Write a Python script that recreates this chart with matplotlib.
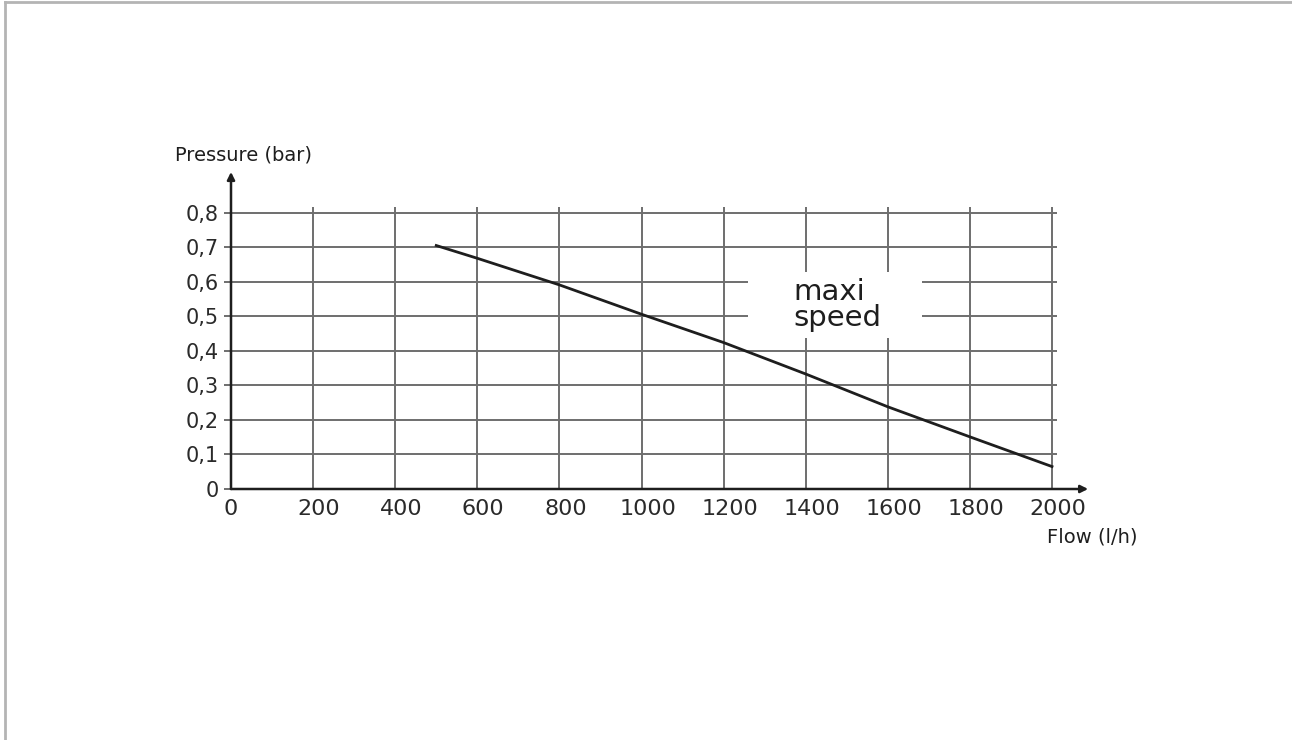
import matplotlib
matplotlib.use('Agg')
import matplotlib.pyplot as plt
import matplotlib.patches as patches
import matplotlib.transforms as mtransforms
from matplotlib.lines import Line2D

# pump curve
flow = [500, 600, 800, 1000, 1200, 1400, 1600, 1800, 2000]
pressure = [0.705, 0.668, 0.591, 0.506, 0.424, 0.333, 0.238, 0.151, 0.065]

x_ticks = [0, 200, 400, 600, 800, 1000, 1200, 1400, 1600, 1800, 2000]
y_ticks = [0, 0.1, 0.2, 0.3, 0.4, 0.5, 0.6, 0.7, 0.8]
y_labels = ['0', '0,1', '0,2', '0,3', '0,4', '0,5', '0,6', '0,7', '0,8']

W, H = 1292, 740
grid_col = '#6e6e6e'
ink = '#1e1e1e'

fig = plt.figure(figsize=(W / 100, H / 100), dpi=100)
ax = fig.add_axes([231 / W, (H - 489) / H, 821 / W, 276.3 / H])
ax.set_xlim(0, 2000)
ax.set_ylim(0, 0.8)
for s in ax.spines.values():
    s.set_visible(False)

# grid (drawn by hand so lines run a little past the last tick)
ax.vlines(x_ticks[1:], 0, 0.8165, color=grid_col, lw=1.4, zorder=1, clip_on=False)
ax.hlines(y_ticks[1:], 0, 2012, color=grid_col, lw=1.4, zorder=1, clip_on=False)

# axes with arrows
arrow = dict(arrowstyle='-|>', lw=1.8, color=ink, mutation_scale=11, shrinkA=0, shrinkB=0)
ax.annotate('', xy=(2088, 0), xytext=(0, 0), arrowprops=arrow, annotation_clip=False, zorder=5)
ax.annotate('', xy=(0, 0.918), xytext=(0, 0), arrowprops=arrow, annotation_clip=False, zorder=5)

# ticks
ax.set_xticks(x_ticks)
ax.set_xticklabels([str(v) for v in x_ticks], fontsize=16, color='#2a2a2a')
ax.tick_params(axis='x', length=0, pad=7)
shift = mtransforms.ScaledTranslation(6 / 100, 0, fig.dpi_scale_trans)
for lab in ax.get_xticklabels()[1:]:
    lab.set_transform(lab.get_transform() + shift)
ax.set_yticks(y_ticks)
ax.set_yticklabels(y_labels, fontsize=15, color='#2a2a2a')
ax.tick_params(axis='y', length=5, width=1.4, color=grid_col, pad=4)

# curve
ax.plot(flow, pressure, color=ink, lw=2, zorder=3, clip_on=False)

# label with white backing
ax.add_patch(patches.Rectangle((1259, 0.437), 424, 0.191, fc='white', ec='none', zorder=2))
ax.text(1371, 0.533, 'maxi\nspeed', fontsize=21, color=ink, ha='left', va='center',
        linespacing=0.9, zorder=4)

# axis titles
fig.text(175 / W, 1 - 155 / H, 'Pressure (bar)', fontsize=14, color=ink, ha='left', va='center')
fig.text(1047 / W, 1 - 537 / H, 'Flow (l/h)', fontsize=14, color=ink, ha='left', va='center')

# frame lines at top and left of the page
fig.add_artist(Line2D([5 / W, 1], [1 - 1.5 / H, 1 - 1.5 / H], color='#b4b4b4', lw=2))
fig.add_artist(Line2D([5 / W, 5 / W], [0, 1 - 1.5 / H], color='#b4b4b4', lw=2))

fig.savefig('out.png', dpi=100)
